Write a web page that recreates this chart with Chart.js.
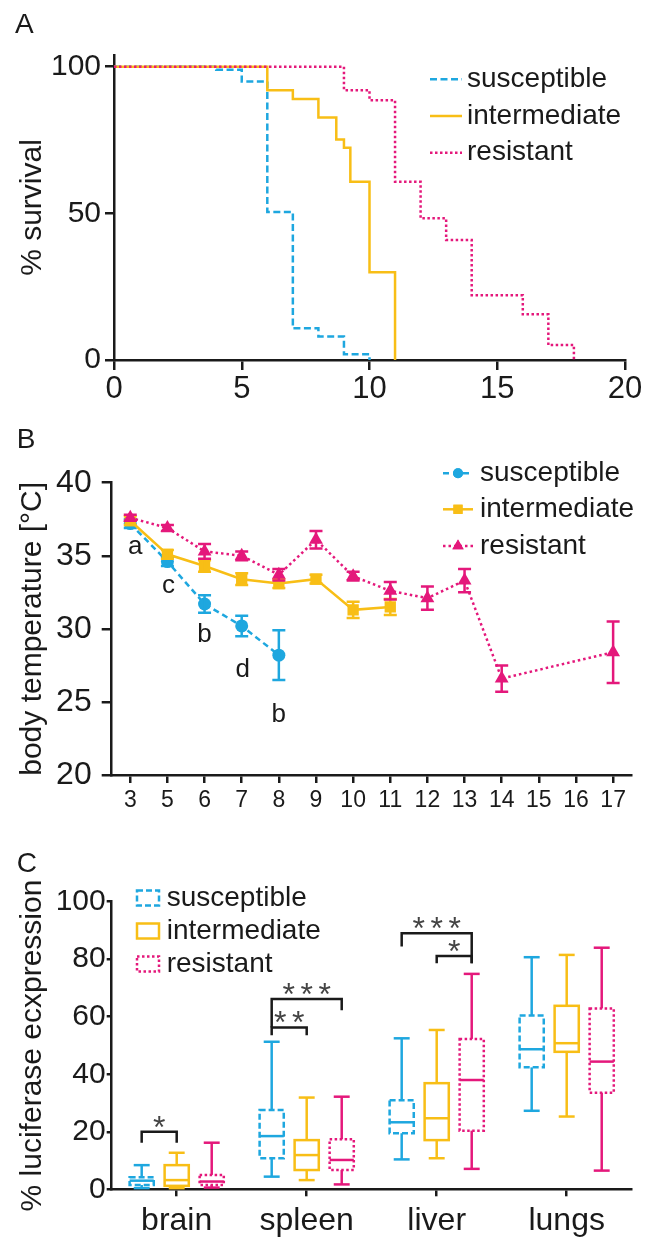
<!DOCTYPE html>
<html>
<head>
<meta charset="utf-8">
<script src="https://cdn.jsdelivr.net/npm/chart.js@4.4.0/dist/chart.umd.min.js"></script>
<style>
body{margin:0;background:#fff;width:651px;height:1239px;overflow:hidden;position:relative}
canvas{position:absolute;left:0}
</style>
</head>
<body>
<canvas id="chartA" width="651" height="410" style="top:0"></canvas>
<canvas id="chartB" width="651" height="410" style="top:410px"></canvas>
<canvas id="chartC" width="651" height="419" style="top:820px"></canvas>
<script>
// ---- data, panel A (survival, days / %)
var seriesNames=['susceptible','intermediate','resistant']
var survTicks=[0,50,100]
var survSusDay=[0,4,5,6,7,8,9,10]
var survSus=[100,99,95,50.5,10.8,8,2,0]
var survIntDay=[0,6,7,8,8.7,9,9.25,10,11]
var survInt=[100,92,89,82.7,75.2,72.4,60.8,29.9,0]
var survResDay=[0,9,10,11,12,13,14,16,17,18]
var survRes=[100,92,88.6,60.8,48.3,40.9,22.1,15.6,5.1,0]

// ---- data, panel B (body temperature)
var tempDays=['3','5','6','7','8','9','10','11','12','13','14','15','16','17']
var tempSus=[37.2,34.6,31.7,30.2,28.2,null,null,null,null,null,null,null,null,null]
var tempSusErr=[0.3,0.3,0.6,0.7,1.7]
var tempInt=[37.4,35.1,34.3,33.4,33.1,33.4,31.3,31.5,null,null,null,null,null,null]
var tempIntErr=[0.3,0.3,0.4,0.4,0.3,0.3,0.55,0.55]
var tempRes=[37.6,36.9,35.3,35.0,33.7,36.1,33.6,32.6,32.1,33.3,26.6,null,null,28.4]
var tempResErr=[0.2,0.2,0.5,0.3,0.4,0.6,0.3,0.6,0.8,0.8,0.9,null,null,2.1]
var susLetters=['a','c','b','d','b']

// ---- data, panel C (luciferase, box plots)
var organs=['brain','spleen','liver','lungs']
var lucSusMin=[0.4,4.4,10.4,27.3], lucSusQ1=[1.5,10.8,19.5,42.4], lucSusMed=[3.0,18.5,23.3,48.7], lucSusQ3=[4.2,27.6,31.0,60.4], lucSusMax=[8.4,51.3,52.5,80.7]
var lucIntMin=[0.4,3.2,10.8,25.3], lucIntQ1=[1.2,6.7,17.1,47.8], lucIntMed=[3.2,11.9,24.7,50.8], lucIntQ3=[8.4,17.1,36.9,63.8], lucIntMax=[12.7,31.9,55.4,81.5]
var lucResMin=[0.6,1.7,7.1,6.5], lucResQ1=[1.5,6.7,20.4,33.6], lucResMed=[2.7,10.2,38.0,44.4], lucResQ3=[5.0,17.4,52.3,62.9], lucResMax=[16.2,32.2,74.9,84.0]
// significance brackets: organ, from series, to series, top level, leg ends, stars
var sigOrgan=[0,1,1,2,2]
var sigFrom=[0,0,0,0,1]
var sigTo=[1,1,2,2,2]
var sigTop=[20,56.3,66.2,89,81.1]
var sigLeftEnd=[16.2,53.6,56.3,84.4,78.6]
var sigRightEnd=[16.2,53.6,62.3,78.6,78.6]
var sigStars=['*','**','***','***','*']

var blue='#1ea7df', yellow='#f8be16', pink='#e4187b', ink='#1a1a1a'
var FONT='"Liberation Sans", Arial, Helvetica, sans-serif'
Chart.defaults.font.family=FONT
Chart.defaults.color=ink

function axis(tick,pad,size){
  return {
    border:{color:ink,width:2.5},
    grid:{display:true,drawOnChartArea:false,drawTicks:true,tickLength:tick,color:ink,lineWidth:2.5,offset:false},
    ticks:{color:ink,padding:pad,font:{size:size,lineHeight:1},autoSkip:false,maxRotation:0}
  }
}
function yTitle(text){
  return {display:true,text:text,color:ink,font:{size:30,lineHeight:1},padding:{top:17.5,bottom:0}}
}
function panelLetter(ctx,t,x,y){
  ctx.save(); ctx.fillStyle=ink; ctx.font='28px '+FONT; ctx.textBaseline='alphabetic'
  ctx.fillText(t,x,y); ctx.restore()
}
function pts(xs,ys){ return xs.map(function(x,i){return {x:x,y:ys[i]}}) }

// ---------------- panel A
var xA=axis(10,4,31)
xA.type='linear'; xA.min=0; xA.max=20; xA.ticks.stepSize=5
xA.afterFit=function(s){s.height=50}
var yA=axis(9,4,30)
yA.min=0; yA.max=104
yA.afterBuildTicks=function(s){s.ticks=survTicks.map(function(v){return {value:v}})}
yA.afterFit=function(s){s.width=114}
yA.title=yTitle('% survival')

var legendA={id:'legendA',afterDraw:function(chart){
  var ctx=chart.ctx, rows=[79.3,116,152.7]
  ctx.save()
  chart.data.datasets.forEach(function(ds,i){
    ctx.strokeStyle=ds.borderColor; ctx.lineWidth=2.5; ctx.setLineDash(ds.borderDash||[])
    ctx.beginPath(); ctx.moveTo(430,rows[i]); ctx.lineTo(462,rows[i]); ctx.stroke()
    ctx.setLineDash([]); ctx.fillStyle=ink; ctx.font='28px '+FONT; ctx.textBaseline='middle'
    ctx.fillText(ds.label,467,rows[i])
  })
  ctx.restore()
  panelLetter(ctx,'A',15,33)
}}

new Chart(document.getElementById('chartA'),{
  type:'line',
  data:{datasets:[
    {label:seriesNames[0],data:pts(survSusDay,survSus),borderColor:blue,borderDash:[7,3.5],order:2},
    {label:seriesNames[1],data:pts(survIntDay,survInt),borderColor:yellow,order:1},
    {label:seriesNames[2],data:pts(survResDay,survRes),borderColor:pink,borderDash:[2.5,2.5],order:0}
  ].map(function(d){d.stepped=true;d.borderWidth=2.5;d.pointRadius=0;d.fill=false;return d})},
  options:{
    responsive:false,animation:false,events:[],devicePixelRatio:1,
    layout:{padding:{top:55,right:26,left:0,bottom:0}},
    plugins:{legend:{display:false},tooltip:{enabled:false}},
    scales:{x:xA,y:yA}
  },
  plugins:[legendA]
})

// ---------------- panel B
var xB=axis(8,6,23)
xB.type='category'; xB.offset=true
xB.afterFit=function(s){s.height=45}
var yB=axis(10,10,32)
yB.min=20; yB.max=40; yB.ticks.stepSize=5
yB.afterFit=function(s){s.width=111.7}
yB.title=yTitle('body temperature [°C]')

var tempErrs=[tempSusErr,tempIntErr,tempResErr]
var letterDx=[5,1,0,1,0], letterDy=[30.7,31,37.7,50.7,66.7]
var extrasB={id:'extrasB',
  afterDatasetDraw:function(chart,args){
    var ctx=chart.ctx, ys=chart.scales.y, ds=chart.data.datasets[args.index], err=tempErrs[args.index]
    ctx.save(); ctx.strokeStyle=ds.borderColor; ctx.lineWidth=2.5; ctx.setLineDash([])
    args.meta.data.forEach(function(p,j){
      var v=ds.data[j], e=err[j]
      if(v==null||e==null) return
      var t=ys.getPixelForValue(v+e), b=ys.getPixelForValue(v-e)
      ctx.beginPath()
      ctx.moveTo(p.x,t); ctx.lineTo(p.x,b)
      ctx.moveTo(p.x-6.5,t); ctx.lineTo(p.x+6.5,t)
      ctx.moveTo(p.x-6.5,b); ctx.lineTo(p.x+6.5,b)
      ctx.stroke()
    })
    ctx.restore()
  },
  afterDraw:function(chart){
    var ctx=chart.ctx, meta=chart.getDatasetMeta(0)
    ctx.save(); ctx.fillStyle=ink; ctx.font='26px '+FONT; ctx.textAlign='center'; ctx.textBaseline='alphabetic'
    susLetters.forEach(function(l,j){
      var p=meta.data[j]
      ctx.fillText(l,p.x+letterDx[j],p.y+letterDy[j])
    })
    var rows=[63.3,99.3,136], sizes=[5,6.5,6.5]
    chart.data.datasets.forEach(function(ds,i){
      ctx.strokeStyle=ds.borderColor; ctx.lineWidth=2.5; ctx.setLineDash(ds.borderDash||[])
      ctx.beginPath(); ctx.moveTo(443,rows[i]); ctx.lineTo(473,rows[i]); ctx.stroke()
      ctx.setLineDash([]); ctx.fillStyle=ds.borderColor
      Chart.helpers.drawPoint(ctx,{pointStyle:ds.pointStyle,radius:sizes[i],rotation:0,borderWidth:0},458,rows[i])
      ctx.fill()
      ctx.fillStyle=ink; ctx.font='28px '+FONT; ctx.textAlign='left'; ctx.textBaseline='middle'
      ctx.fillText(ds.label,480,rows[i])
    })
    ctx.restore()
    panelLetter(ctx,'B',16.7,38)
  }
}

new Chart(document.getElementById('chartB'),{
  type:'line',
  data:{labels:tempDays,datasets:[
    {label:seriesNames[0],data:tempSus,borderColor:blue,backgroundColor:blue,borderDash:[6,4],pointStyle:'circle',pointRadius:6.5,order:2},
    {label:seriesNames[1],data:tempInt,borderColor:yellow,backgroundColor:yellow,pointStyle:'rect',pointRadius:8,order:1},
    {label:seriesNames[2],data:tempRes,borderColor:pink,backgroundColor:pink,borderDash:[2.5,3],pointStyle:'triangle',pointRadius:8,order:0}
  ].map(function(d){d.borderWidth=2.5;d.pointBorderWidth=0;d.spanGaps=true;d.fill=false;d.tension=0;return d})},
  options:{
    responsive:false,animation:false,events:[],devicePixelRatio:1,
    layout:{padding:{top:72.7,right:19.3,left:0,bottom:0}},
    plugins:{legend:{display:false},tooltip:{enabled:false}},
    scales:{x:xB,y:yB}
  },
  plugins:[extrasB]
})

// ---------------- panel C
var xC=axis(7,9.3,32)
xC.type='category'; xC.offset=true
xC.afterFit=function(s){s.height=49.7}
var yC=axis(5,1,30)
yC.min=0; yC.max=100; yC.ticks.stepSize=20
yC.afterFit=function(s){s.width=111.7}
yC.title=yTitle('% luciferase ecxpression')

var boxStats=[
  {min:lucSusMin,q1:lucSusQ1,med:lucSusMed,q3:lucSusQ3,max:lucSusMax},
  {min:lucIntMin,q1:lucIntQ1,med:lucIntMed,q3:lucIntQ3,max:lucIntMax},
  {min:lucResMin,q1:lucResQ1,med:lucResMed,q3:lucResQ3,max:lucResMax}
]
function seg(ctx,x1,y1,x2,y2){ctx.beginPath();ctx.moveTo(x1,y1);ctx.lineTo(x2,y2);ctx.stroke()}
var extrasC={id:'extrasC',
  afterDatasetsDraw:function(chart){
    var ctx=chart.ctx, ys=chart.scales.y
    function py(v){return ys.getPixelForValue(v)}
    ctx.save(); ctx.lineWidth=2.5
    chart.data.datasets.forEach(function(ds,i){
      var st=boxStats[i]
      chart.getDatasetMeta(i).data.forEach(function(el,j){
        var x=el.x, w=el.width, c=w*0.33
        ctx.strokeStyle=ds.borderColor; ctx.setLineDash([])
        seg(ctx,x,py(st.q3[j]),x,py(st.max[j])); seg(ctx,x-c,py(st.max[j]),x+c,py(st.max[j]))
        seg(ctx,x,py(st.q1[j]),x,py(st.min[j])); seg(ctx,x-c,py(st.min[j]),x+c,py(st.min[j]))
        seg(ctx,x-w/2,py(st.med[j]),x+w/2,py(st.med[j]))
        ctx.setLineDash(ds.boxDash)
        ctx.strokeRect(x-w/2,py(st.q3[j]),w,py(st.q1[j])-py(st.q3[j]))
      })
    })
    // brackets
    ctx.setLineDash([]); ctx.strokeStyle=ink; ctx.lineJoin='miter'
    sigOrgan.forEach(function(o,k){
      var xl=chart.getDatasetMeta(sigFrom[k]).data[o].x, xr=chart.getDatasetMeta(sigTo[k]).data[o].x
      var top=py(sigTop[k])
      ctx.beginPath(); ctx.moveTo(xl,py(sigLeftEnd[k])); ctx.lineTo(xl,top); ctx.lineTo(xr,top); ctx.lineTo(xr,py(sigRightEnd[k])); ctx.stroke()
      ctx.fillStyle='#444'; ctx.font='32px '+FONT; ctx.textAlign='center'; ctx.textBaseline='alphabetic'
      var n=sigStars[k].length, cx=(xl+xr)/2
      for(var s=0;s<n;s++) ctx.fillText('*',cx+(s-(n-1)/2)*18,top+6)
    })
    ctx.restore()
  },
  afterDraw:function(chart){
    var ctx=chart.ctx, rows=[78,111,144]
    ctx.save()
    chart.data.datasets.forEach(function(ds,i){
      ctx.strokeStyle=ds.borderColor; ctx.lineWidth=2.5; ctx.setLineDash(ds.boxDash)
      ctx.strokeRect(137,rows[i]-7.5,22,15)
      ctx.setLineDash([]); ctx.fillStyle=ink; ctx.font='28px '+FONT; ctx.textBaseline='middle'
      ctx.fillText(ds.label,166.7,rows[i])
    })
    ctx.restore()
    panelLetter(ctx,'C',16.7,51.7)
  }
}

new Chart(document.getElementById('chartC'),{
  type:'bar',
  data:{labels:organs,datasets:[
    {label:seriesNames[0],borderColor:blue,boxDash:[6,3],data:organs.map(function(o,j){return [lucSusMin[j],lucSusMax[j]]})},
    {label:seriesNames[1],borderColor:yellow,boxDash:[],data:organs.map(function(o,j){return [lucIntMin[j],lucIntMax[j]]})},
    {label:seriesNames[2],borderColor:pink,boxDash:[2.5,2.5],data:organs.map(function(o,j){return [lucResMin[j],lucResMax[j]]})}
  ].map(function(d){d.backgroundColor='rgba(0,0,0,0)';d.borderWidth=0;d.categoryPercentage=0.808;d.barPercentage=0.69;return d})},
  options:{
    responsive:false,animation:false,events:[],devicePixelRatio:1,
    layout:{padding:{top:81.7,right:19.3,left:0,bottom:0}},
    plugins:{legend:{display:false},tooltip:{enabled:false}},
    scales:{x:xC,y:yC}
  },
  plugins:[extrasC]
})
</script>
</body>
</html>
